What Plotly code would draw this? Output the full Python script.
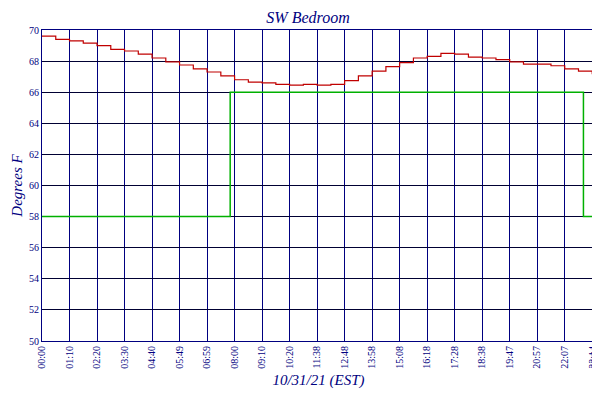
import plotly.graph_objects as go

tick_pos = list(range(21)) + [20.1]
tick_text = ["00:00","01:10","02:20","03:30","04:40","05:49","06:59","08:00","09:10","10:20",
             "11:38","12:48","13:58","15:08","16:18","17:28","18:38","19:47","20:57","22:07","23:14","23:24"]

temp_x = [i*0.5 for i in range(41)] + [20.1]
temp_y = [69.6,69.4,69.3,69.15,69.0,68.75,68.65,68.45,68.2,67.95,67.75,67.5,67.3,67.05,66.8,66.65,
          66.6,66.5,66.45,66.5,66.45,66.5,66.75,67.05,67.35,67.65,67.9,68.2,68.3,68.5,68.45,68.25,
          68.2,68.1,67.95,67.8,67.8,67.7,67.5,67.35,67.2,67.15]

set_x = [0, 6.84, 6.84, 19.68, 19.68, 20.1]
set_y = [58, 58, 66, 66, 58, 58]

navy = "#000080"
font = dict(family="Liberation Serif", color=navy)

fig = go.Figure()
fig.add_trace(go.Scatter(x=temp_x, y=temp_y, mode="lines", line=dict(color="#c00000", width=1.2, shape="hv"), name="<i>SW Bedroom</i>"))
fig.add_trace(go.Scatter(x=set_x, y=set_y, mode="lines", line=dict(color="#00b000", width=1.5), name="<i>Setback</i>"))
fig.add_trace(go.Scatter(x=[0], y=[50], yaxis="y2", mode="markers", marker=dict(opacity=0), showlegend=False, hoverinfo="skip"))

fig.update_layout(
    width=600, height=400, paper_bgcolor="white", plot_bgcolor="white",
    margin=dict(l=34, r=13, t=22, b=67, autoexpand=False),
    title=dict(text="<i>SW Bedroom</i>", x=0.5, y=0.99, yanchor="top", font=dict(size=16, **font)),
    xaxis=dict(range=[0, 20.1], tickvals=tick_pos, ticktext=tick_text, tickangle=-90, automargin=False,
               tickfont=dict(size=10, **font), showgrid=True, gridcolor=navy, gridwidth=1,
               showline=True, linecolor=navy, mirror=True, zeroline=False, ticks="",
               title=dict(text="<i>10/31/21 (EST)</i>", font=dict(size=15, **font), standoff=6)),
    yaxis=dict(range=[50, 70], dtick=2, tickfont=dict(size=10, **font), showgrid=True, gridcolor="#000033",
               showline=True, linecolor=navy, zeroline=False, ticks="", automargin=False,
               title=dict(text="<i>Degrees F</i>", font=dict(size=15, **font), standoff=2)),
    yaxis2=dict(range=[50, 70], dtick=2, overlaying="y", side="right", showgrid=False, automargin=False,
                tickfont=dict(size=10, **font), ticks=""),
    legend=dict(orientation="h", x=0.5, xanchor="center", y=-0.165, yanchor="top",
                font=dict(size=13, family="Liberation Serif", color=navy)),
)
fig.write_html("out.html")
